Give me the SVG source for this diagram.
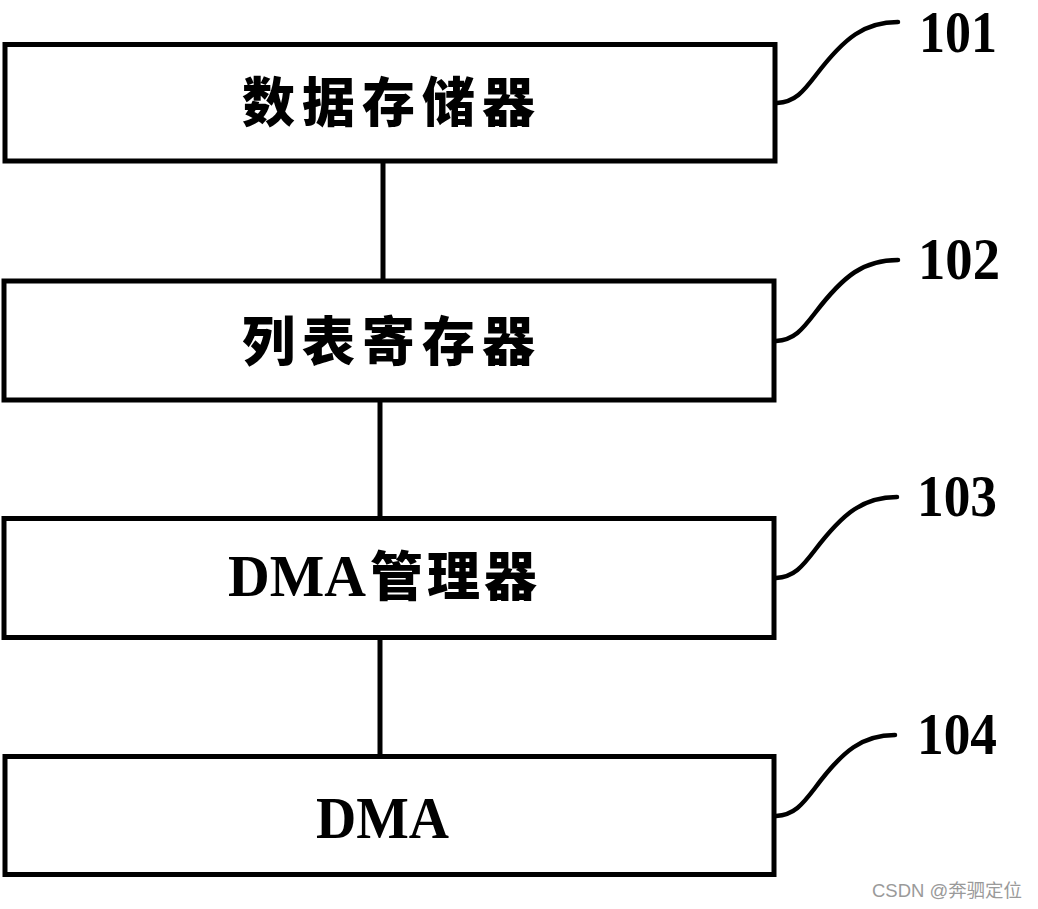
<svg xmlns="http://www.w3.org/2000/svg" width="1038" height="909" viewBox="0 0 1038 909">
<style>
.box{fill:#fff;stroke:#000;stroke-width:5}
.line{fill:none;stroke:#000;stroke-width:5}
.lead{fill:none;stroke:#000;stroke-width:4.5;stroke-linecap:round}
.cjk{font-family:"Noto Sans CJK SC","Noto Sans CJK JP",sans-serif;font-weight:900;font-size:53px;fill:#000}
.lat{font-family:"Liberation Serif","Times New Roman",serif;font-weight:bold;font-size:59px;fill:#000}
.num{font-family:"Liberation Serif","Times New Roman",serif;font-weight:bold;font-size:60px;fill:#000}
.wm{font-family:"Liberation Sans","Noto Sans CJK SC",sans-serif;font-size:18px;fill:#9a9a9a}
</style>
<rect width="1038" height="909" fill="#fff"/>
<g id="connectors">
<line class="line" x1="383" y1="161" x2="383" y2="281"/>
<line class="line" x1="380" y1="400" x2="380" y2="518"/>
<line class="line" x1="380" y1="637" x2="380" y2="756"/>
<path class="lead" d="M777 103 C795 102,803 92,816 75 C845 37,865 22,898 22"/>
<path class="lead" d="M776 341 C794 340,802 330,815 313 C844 275,864 260,898 260"/>
<path class="lead" d="M776 578 C794 577,802 567,815 550 C844 512,864 497,897 497"/>
<path class="lead" d="M776 816 C794 815,802 805,815 788 C843 750,863 735,895 735"/>
</g>
<g id="node101">
<rect class="box" x="5" y="44.5" width="770" height="116.5"/>
<text class="cjk" x="242" y="122" letter-spacing="7">数据存储器</text>
<text class="num" x="919" y="52" font-size="52" textLength="78" lengthAdjust="spacingAndGlyphs">101</text>
</g>
<g id="node102">
<rect class="box" x="4" y="281" width="770" height="119"/>
<text class="cjk" x="242" y="361" letter-spacing="7">列表寄存器</text>
<text class="num" x="918" y="279" textLength="82" lengthAdjust="spacingAndGlyphs">102</text>
</g>
<g id="node103">
<rect class="box" x="4" y="518.5" width="770" height="119"/>
<text x="228" y="596"><tspan class="lat" textLength="138" lengthAdjust="spacingAndGlyphs">DMA</tspan><tspan class="cjk" dx="4" letter-spacing="4">管理器</tspan></text>
<text class="num" x="917" y="516" textLength="80" lengthAdjust="spacingAndGlyphs">103</text>
</g>
<g id="node104">
<rect class="box" x="5" y="756.5" width="769" height="118"/>
<text class="lat" x="316" y="838" textLength="133" lengthAdjust="spacingAndGlyphs">DMA</text>
<text class="num" x="917" y="754" textLength="80" lengthAdjust="spacingAndGlyphs">104</text>
</g>
<text class="wm" x="872" y="897" textLength="150" lengthAdjust="spacingAndGlyphs">CSDN @奔驷定位</text>
</svg>
